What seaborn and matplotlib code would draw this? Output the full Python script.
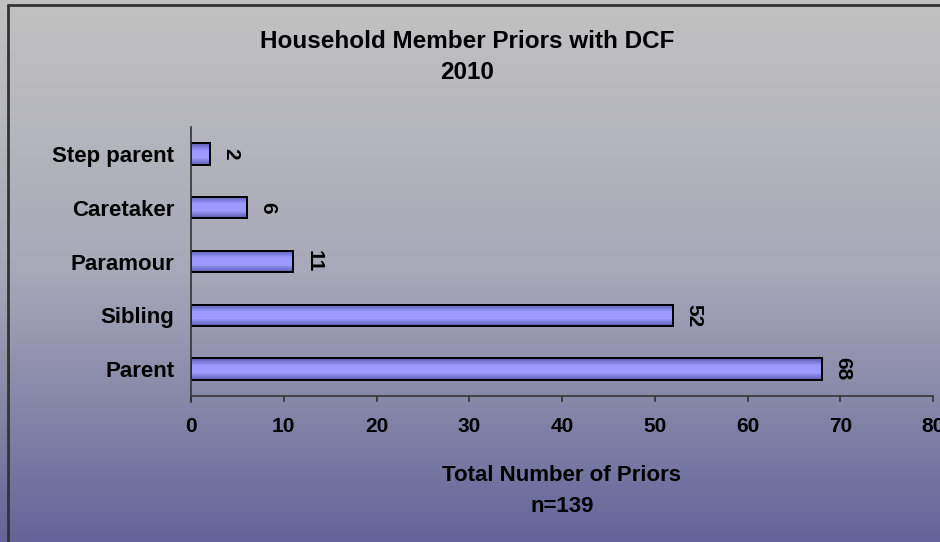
import numpy as np
import pandas as pd
import matplotlib
matplotlib.use("Agg")
import matplotlib.pyplot as plt
from matplotlib.colors import LinearSegmentedColormap
from matplotlib.lines import Line2D
import seaborn as sns

# data
members = ["Step parent", "Caretaker", "Paramour", "Sibling", "Parent"]
priors = [2, 6, 11, 52, 68]
x_ticks = [0, 10, 20, 30, 40, 50, 60, 70, 80]

df = pd.DataFrame({"member": members, "priors": priors})

sns.set_style("white")
plt.rcParams["font.family"] = ["Liberation Sans", "DejaVu Sans"]
plt.rcParams["font.weight"] = "bold"
plt.rcParams["text.color"] = "black"
plt.rcParams["axes.labelcolor"] = "black"
plt.rcParams["xtick.color"] = "black"
plt.rcParams["ytick.color"] = "black"

fig = plt.figure(figsize=(9.4, 5.42), dpi=100)

# background gradient over the whole figure
bg = fig.add_axes([0, 0, 1, 1], zorder=-10)
bg_cmap = LinearSegmentedColormap.from_list("bg", ["#c2c2c2", "#a8a8b8", "#64649a"])
bg.imshow(np.linspace(0, 1, 256).reshape(-1, 1), cmap=bg_cmap, aspect="auto",
          extent=[0, 1, 0, 1])
bg.set_axis_off()

# chart frame (left and top edge visible)
fig.add_artist(Line2D([8 / 940, 8 / 940], [0, 1 - 5 / 542], color="#333333", lw=2))
fig.add_artist(Line2D([8 / 940, 1], [1 - 5 / 542, 1 - 5 / 542], color="#333333", lw=2))

ax = fig.add_axes([191 / 940, 1 - 396 / 542, 742 / 940, 269 / 542])
ax.set_facecolor("none")

sns.barplot(data=df, x="priors", y="member", order=members, orient="h",
            color="#9999ff", edgecolor="black", linewidth=1.4, width=0.4, ax=ax)

# shade each bar: darker at the long edges, light in the middle
bar_cmap = LinearSegmentedColormap.from_list("bar", ["#5c5cb0", "#9999ff", "#9d9dff", "#5c5cb0"])
grad = np.linspace(0, 1, 64).reshape(-1, 1)
for p in ax.patches:
    x0, y0 = p.get_x(), p.get_y()
    w, h = p.get_width(), p.get_height()
    im = ax.imshow(grad, cmap=bar_cmap, aspect="auto",
                   extent=[x0, x0 + w, y0 + h, y0], zorder=p.get_zorder() + 0.1)
    im.set_clip_path(p)
    edge = plt.Rectangle((x0, y0), w, h, fill=False, edgecolor="black",
                         lw=1.4, zorder=p.get_zorder() + 0.2)
    ax.add_patch(edge)

for i, v in enumerate(priors):
    ax.annotate(str(v), (v, i), xytext=(15, 0), textcoords="offset points",
                rotation=-90, ha="center", va="center", fontsize=15,
                fontweight="bold", color="black")

ax.set_xlim(0, 80)
ax.set_ylim(len(members) - 0.5, -0.5)
ax.set_xticks(x_ticks)
ax.set_xticklabels([str(t) for t in x_ticks], fontsize=15, fontweight="bold")
ax.tick_params(axis="x", direction="out", length=4.5, width=1.2, color="#333333",
               pad=10.5, bottom=True)
ax.tick_params(axis="y", length=0, pad=12, labelsize=16)
for lab in ax.get_yticklabels():
    lab.set_fontweight("bold")

for s in ["top", "right"]:
    ax.spines[s].set_visible(False)
ax.spines["left"].set_color("#333333")
ax.spines["bottom"].set_color("#333333")
ax.spines["left"].set_linewidth(1.2)
ax.spines["bottom"].set_linewidth(1.2)
ax.spines["left"].set_bounds(len(members) - 0.5 + 0.12, -0.5)

ax.set_ylabel("")
ax.set_xlabel("Total Number of Priors\nn=139", fontsize=16, fontweight="bold",
              linespacing=1.65, labelpad=21)

fig.text(0.497, 1 - 57 / 542, "Household Member Priors with DCF\n2010",
         ha="center", va="center", fontsize=17.5, fontweight="bold", linespacing=1.45)

fig.savefig("out.png", dpi=100)
